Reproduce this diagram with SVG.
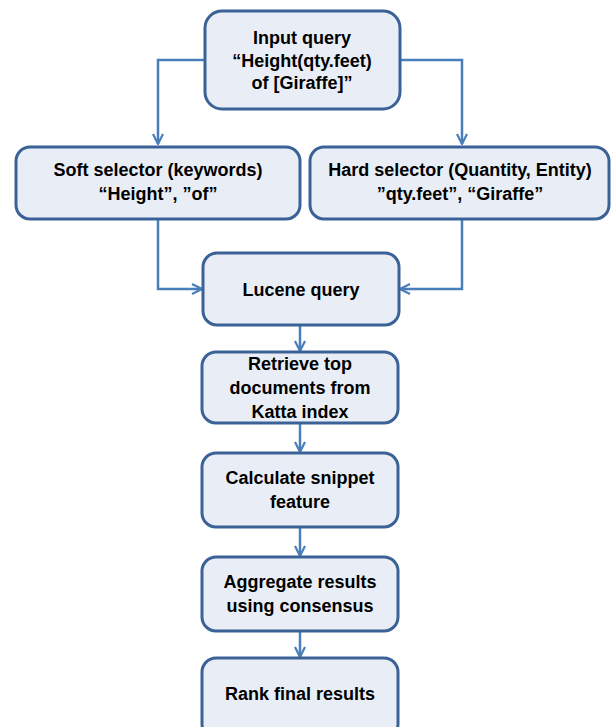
<svg xmlns="http://www.w3.org/2000/svg" width="611" height="727" viewBox="0 0 611 727">
<defs>
<style>
.box{fill:#E9EEF6;stroke:#3B6296;stroke-width:3}
.t{font-family:"Liberation Sans",Arial,sans-serif;font-weight:bold;font-size:18px;fill:#000;text-anchor:middle}
.c{fill:none;stroke:#4A7EBB;stroke-width:2.5}
</style>
<marker id="ah" viewBox="0 0 12 12" refX="11" refY="6" markerWidth="12" markerHeight="12" markerUnits="userSpaceOnUse" orient="auto">
<path d="M1,1 L11,6 L1,11" fill="none" stroke="#4A7EBB" stroke-width="2.2"/>
</marker>
</defs>
<rect width="611" height="727" fill="#fff"/>
<g id="connectors">
<path class="c" d="M205,60 H158 V144" marker-end="url(#ah)"/>
<path class="c" d="M400,60 H462 V144" marker-end="url(#ah)"/>
<path class="c" d="M158,220 V289 H202" marker-end="url(#ah)"/>
<path class="c" d="M462,220 V289 H400" marker-end="url(#ah)"/>
<path class="c" d="M300,326 V351" marker-end="url(#ah)"/>
<path class="c" d="M300,424 V452" marker-end="url(#ah)"/>
<path class="c" d="M300,528 V556" marker-end="url(#ah)"/>
<path class="c" d="M300,632 V657" marker-end="url(#ah)"/>
</g>
<g id="input">
<rect class="box" x="205" y="11" width="195" height="98" rx="17"/>
<text class="t" x="302" y="44">Input query</text>
<text class="t" x="302" y="67">“Height(qty.feet)</text>
<text class="t" x="302" y="89">of [Giraffe]”</text>
</g>
<g id="soft">
<rect class="box" x="16" y="147" width="284" height="72" rx="14"/>
<text class="t" x="158" y="176">Soft selector (keywords)</text>
<text class="t" x="158" y="200">“Height”, ”of”</text>
</g>
<g id="hard">
<rect class="box" x="310" y="147" width="299" height="72" rx="14"/>
<text class="t" x="460" y="176">Hard selector (Quantity, Entity)</text>
<text class="t" x="460" y="200">”qty.feet”, “Giraffe”</text>
</g>
<g id="lucene">
<rect class="box" x="203" y="253" width="196" height="72" rx="14"/>
<text class="t" x="301" y="296">Lucene query</text>
</g>
<g id="retrieve">
<rect class="box" x="202" y="352" width="196" height="71" rx="14"/>
<text class="t" x="300" y="370">Retrieve top</text>
<text class="t" x="300" y="394">documents from</text>
<text class="t" x="300" y="418">Katta index</text>
</g>
<g id="calculate">
<rect class="box" x="202" y="453" width="196" height="74" rx="14"/>
<text class="t" x="300" y="484">Calculate snippet</text>
<text class="t" x="300" y="508">feature</text>
</g>
<g id="aggregate">
<rect class="box" x="202" y="557" width="196" height="74" rx="14"/>
<text class="t" x="300" y="588">Aggregate results</text>
<text class="t" x="300" y="612">using consensus</text>
</g>
<g id="rank">
<rect class="box" x="202" y="658" width="196" height="80" rx="14"/>
<text class="t" x="300" y="700">Rank final results</text>
</g>
</svg>
